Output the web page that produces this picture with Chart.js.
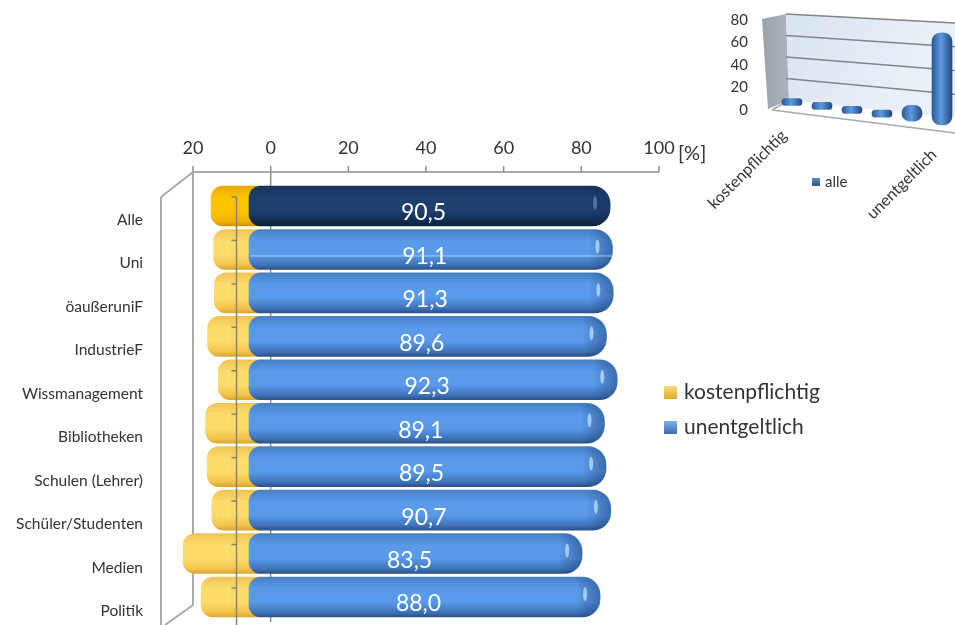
<!DOCTYPE html>
<html lang="de">
<head>
  <meta charset="UTF-8" />
  <title>kostenpflichtig / unentgeltlich</title>
  <style>
    html, body { margin: 0; padding: 0; background: #fff; overflow: hidden; }
    #stage { position: relative; width: 955px; height: 625px; overflow: hidden; }
    canvas { position: absolute; top: 0; display: block; }
    #mainChart { left: 0; }
    #insetChart { left: 680px; }
  </style>
</head>
<body>
  <div id="stage">
    <canvas id="mainChart" width="955" height="625"></canvas>
    <canvas id="insetChart" width="290" height="225"></canvas>
  </div>

  <script src="https://cdn.jsdelivr.net/npm/chart.js"></script>
  <script>
    const FONT = "Lato, 'Open Sans', sans-serif";

    const groups = ['Alle', 'Uni', 'öaußeruniF', 'IndustrieF', 'Wissmanagement', 'Bibliotheken',
      'Schulen (Lehrer)', 'Schüler/Studenten', 'Medien', 'Politik'];
    const unentgeltlich = [90.5, 91.1, 91.3, 89.6, 92.3, 89.1, 89.5, 90.7, 83.5, 88.0];
    const kostenpflichtig = [9.5, 8.9, 8.7, 10.4, 7.7, 10.9, 10.5, 9.3, 16.5, 12.0];

    const insetCategories = ['kostenpflichtig', '', '', '', '', 'unentgeltlich'];
    const insetValues = [3, 2, 2, 2, 14, 82];

    const BAR_HEIGHT = 40;
    const GOLD_OVERLAP = 3; // gold runs on under the rounded left end of the blue bar

    // vertical shading that makes a bar look like a lying cylinder
    function cylinder(stops, darkStops) {
      return ctx => {
        const chart = ctx.chart;
        if (!chart.chartArea || ctx.dataIndex === undefined) return stops[1];
        const y = chart.scales.y.getPixelForValue(ctx.dataIndex);
        const g = chart.ctx.createLinearGradient(0, y - BAR_HEIGHT / 2, 0, y + BAR_HEIGHT / 2);
        const s = ctx.dataIndex === 0 ? darkStops : stops;
        g.addColorStop(0, s[0]);
        g.addColorStop(0.3, s[1]);
        g.addColorStop(0.62, s[1]);
        g.addColorStop(0.88, s[2]);
        g.addColorStop(1, s[3]);
        return g;
      };
    }

    const BLUE = ['#477fc4', '#5a9aea', '#3f74ba', '#2c5288'];
    const NAVY = ['#183459', '#1d3f6f', '#122b50', '#0b1c36'];
    const GOLD = ['#eec555', '#ffdc6c', '#f2c44c', '#d9a632'];
    const GOLD_STRONG = ['#e6a800', '#ffc400', '#f2b400', '#cf9300'];

    function line(ctx, x1, y1, x2, y2) {
      ctx.beginPath();
      ctx.moveTo(x1, y1);
      ctx.lineTo(x2, y2);
      ctx.stroke();
    }

    function swatch(ctx, x, y, size, top, bottom) {
      const g = ctx.createLinearGradient(0, y, 0, y + size);
      g.addColorStop(0, top);
      g.addColorStop(1, bottom);
      ctx.fillStyle = g;
      ctx.fillRect(x, y, size, size);
    }

    // axis line, 3D frame and the 0 gridline sit behind the bars
    const frameBehind = {
      id: 'frameBehind',
      beforeDatasetsDraw(chart) {
        const ctx = chart.ctx;
        const x = chart.scales.x;
        const AXIS_Y = 172;
        const left = x.getPixelForValue(-20);
        ctx.save();
        ctx.strokeStyle = '#a9a9a9';
        ctx.lineWidth = 2;
        line(ctx, left, AXIS_Y, x.getPixelForValue(100), AXIS_Y);
        line(ctx, left, AXIS_Y - 6, left, 605);
        line(ctx, left, AXIS_Y, left - 32, AXIS_Y + 25);
        line(ctx, left - 32, AXIS_Y + 25, left - 32, 625);
        line(ctx, left, 605, left - 28, 625);
        ctx.lineWidth = 1.5;
        ctx.strokeStyle = '#8f8f8f';
        [0, 20, 40, 60, 80, 100].forEach(v => {
          const px = x.getPixelForValue(v);
          line(ctx, px, AXIS_Y - 6, px, AXIS_Y);
        });
        line(ctx, x.getPixelForValue(0), AXIS_Y, x.getPixelForValue(0), 622);
        ctx.restore();
      }
    };

    // end caps, value labels, front axis and the text the axes don't cover
    const barDetails = {
      id: 'barDetails',
      afterDatasetsDraw(chart) {
        const ctx = chart.ctx;
        const blue = chart.getDatasetMeta(1).data;
        ctx.save();
        blue.forEach((bar, i) => {
          const top = bar.y - BAR_HEIGHT / 2;
          const shade = ctx.createLinearGradient(bar.x - 24, 0, bar.x, 0);
          shade.addColorStop(0, 'rgba(20,45,90,0)');
          shade.addColorStop(1, 'rgba(20,45,90,0.42)');
          ctx.fillStyle = shade;
          ctx.beginPath();
          ctx.roundRect(bar.x - 24, top, 24, BAR_HEIGHT, [0, 18, 18, 0]);
          ctx.fill();

          ctx.fillStyle = i === 0 ? 'rgba(120,160,210,0.55)' : 'rgba(190,225,255,0.75)';
          ctx.beginPath();
          ctx.ellipse(bar.x - 15, bar.y - 3, 2, 7, 0, 0, Math.PI * 2);
          ctx.fill();

          ctx.fillStyle = '#fff';
          ctx.font = '23px ' + FONT;
          ctx.textAlign = 'center';
          ctx.textBaseline = 'middle';
          ctx.fillText(unentgeltlich[i].toFixed(1).replace('.', ','), (bar.base + bar.x) / 2 - 6, bar.y + 7);

          if (groups[i] === 'Uni') {
            ctx.strokeStyle = 'rgba(205,225,245,0.75)';
            ctx.lineWidth = 1;
            line(ctx, bar.base + 1, bar.y + 6.5, bar.x, bar.y + 6.5);
          }
        });

        // front axis running over the gold bars
        const FRONT_X = 236.5;
        ctx.strokeStyle = '#8a8468';
        ctx.lineWidth = 1.5;
        const first = blue[0].y - 9;
        line(ctx, FRONT_X, first, FRONT_X, 625);
        blue.forEach(bar => line(ctx, FRONT_X - 5, bar.y - 9, FRONT_X, bar.y - 9));

        ctx.fillStyle = '#333';
        ctx.textAlign = 'left';
        ctx.textBaseline = 'middle';
        ctx.font = '20px ' + FONT;
        ctx.fillText('[%]', 678, 154);

        ctx.font = '21px ' + FONT;
        swatch(ctx, 664, 386, 13, '#f7dd7a', '#e0ad30');
        ctx.fillStyle = '#333';
        ctx.fillText(chart.data.datasets[0].label, 684, 392);
        swatch(ctx, 664, 421, 13, '#7fb2ec', '#3a6cb0');
        ctx.fillStyle = '#333';
        ctx.fillText(chart.data.datasets[1].label, 684, 427);
        ctx.restore();
      }
    };

    new Chart(document.getElementById('mainChart'), {
      type: 'bar',
      data: {
        labels: groups,
        datasets: [
          {
            label: 'kostenpflichtig',
            data: kostenpflichtig.map(v => [-v, GOLD_OVERLAP]),
            xAxisID: 'xBars',
            backgroundColor: cylinder(GOLD, GOLD_STRONG),
            borderRadius: { topLeft: 12, bottomLeft: 12, topRight: 0, bottomRight: 0 },
            borderSkipped: false,
            barThickness: BAR_HEIGHT,
            clip: false,
            order: 2
          },
          {
            label: 'unentgeltlich',
            data: unentgeltlich,
            xAxisID: 'xBars',
            backgroundColor: cylinder(BLUE, NAVY),
            borderRadius: { topLeft: 12, bottomLeft: 12, topRight: 18, bottomRight: 18 },
            borderSkipped: false,
            barThickness: BAR_HEIGHT,
            clip: false,
            order: 1
          }
        ]
      },
      options: {
        indexAxis: 'y',
        responsive: false,
        animation: false,
        devicePixelRatio: 1,
        layout: { padding: { left: 0, right: 296, top: 0, bottom: 6.3 } },
        plugins: { legend: { display: false }, tooltip: { enabled: false } },
        scales: {
          // the printed scale is on the back wall, the bars run on the nearer plane
          x: {
            position: 'top',
            min: -20,
            max: 100,
            grid: { display: false, drawTicks: false },
            border: { display: false },
            ticks: {
              stepSize: 20,
              autoSkip: false,
              maxRotation: 0,
              padding: 25,
              color: '#333',
              font: { family: FONT, size: 18 },
              callback: v => Math.abs(v)
            },
            afterFit: s => { s.height = 184.3; }
          },
          xBars: {
            display: false,
            min: -14.04,
            max: 102.76
          },
          y: {
            stacked: true,
            grid: { display: false, drawTicks: false },
            border: { display: false },
            ticks: {
              padding: 50,
              labelOffset: 14,
              autoSkip: false,
              color: '#333',
              font: { family: FONT, size: 15.5 }
            },
            afterFit: s => { s.width = 193; s.paddingTop = 0; s.paddingBottom = 0; }
          }
        }
      },
      plugins: [frameBehind, barDetails]
    });

    // small column chart, top right
    const FLOOR_SLOPE = 0.13;
    const INSET_BAR = 20;

    function insetShade(ctx) {
      const chart = ctx.chart;
      if (!chart.chartArea || ctx.dataIndex === undefined) return '#3f74ba';
      const x = chart.scales.x.getPixelForValue(ctx.dataIndex);
      const g = chart.ctx.createLinearGradient(x - INSET_BAR / 2, 0, x + INSET_BAR / 2, 0);
      g.addColorStop(0, '#2b5a97');
      g.addColorStop(0.45, '#5e9ade');
      g.addColorStop(1, '#234a80');
      return g;
    }

    const insetWalls = {
      id: 'insetWalls',
      // columns stand on the sloping floor, so each one moves down with its x
      afterDatasetsUpdate(chart) {
        const x0 = chart.scales.x.getPixelForValue(0);
        chart.getDatasetMeta(0).data.forEach(bar => {
          const dy = -4.5 + FLOOR_SLOPE * (bar.x - x0);
          bar.y += dy;
          bar.base += dy;
        });
      },
      beforeDatasetsDraw(chart) {
        const ctx = chart.ctx;
        const y = chart.scales.y;
        // back wall edges: height of a value at the left and right side
        const L = 106, R = 275;
        const leftY = v => 100 - v * 1.075;
        const rightY = v => 118 - v * 1.1875;
        ctx.save();

        const side = ctx.createLinearGradient(82, 0, 106, 0);
        side.addColorStop(0, '#9aa3aa');
        side.addColorStop(1, '#a9b2ba');
        ctx.fillStyle = side;
        ctx.beginPath();
        ctx.moveTo(82, 19);
        ctx.lineTo(L, leftY(80));
        ctx.lineTo(L + 3, leftY(0));
        ctx.lineTo(88, 109);
        ctx.closePath();
        ctx.fill();

        const back = ctx.createLinearGradient(L, 0, R, 100);
        back.addColorStop(0, '#d9e4f1');
        back.addColorStop(1, '#eef3f9');
        ctx.fillStyle = back;
        ctx.beginPath();
        ctx.moveTo(L, leftY(80));
        ctx.lineTo(R, rightY(80));
        ctx.lineTo(R, rightY(0));
        ctx.lineTo(L + 3, leftY(0));
        ctx.closePath();
        ctx.fill();

        ctx.strokeStyle = '#80858a';
        ctx.lineWidth = 1.5;
        y.ticks.forEach(t => {
          if (t.value > 0) line(ctx, L, leftY(t.value), R, rightY(t.value));
        });
        ctx.strokeStyle = '#a9a9a9';
        line(ctx, 92, 110, R, 133);
        line(ctx, L + 3, leftY(0), 92, 110);
        ctx.restore();
      },
      afterDatasetsDraw(chart) {
        const ctx = chart.ctx;
        ctx.save();
        ctx.fillStyle = '#333';
        ctx.font = '16px ' + FONT;
        ctx.textAlign = 'right';
        ctx.textBaseline = 'middle';
        // category labels follow the front edge of the floor
        [[0, 133], [5, 152]].forEach(([i, labelY]) => {
          ctx.save();
          ctx.translate(chart.scales.x.getPixelForValue(i) - 8, labelY);
          ctx.rotate(-Math.PI / 4);
          ctx.fillText(insetCategories[i], 0, 0);
          ctx.restore();
        });
        swatch(ctx, 132, 178, 8, '#5a8fcf', '#2c5288');
        ctx.fillStyle = '#333';
        ctx.textAlign = 'left';
        ctx.font = '15px ' + FONT;
        ctx.fillText(chart.data.datasets[0].label, 145, 182);
        ctx.restore();
      }
    };

    new Chart(document.getElementById('insetChart'), {
      type: 'bar',
      data: {
        labels: insetCategories,
        datasets: [{
          label: 'alle',
          data: insetValues,
          backgroundColor: insetShade,
          barThickness: INSET_BAR,
          minBarLength: 7,
          borderRadius: 9,
          borderSkipped: false,
          clip: false
        }]
      },
      options: {
        responsive: false,
        animation: false,
        devicePixelRatio: 1,
        layout: { padding: { left: 0, right: 13, top: 20, bottom: 115 } },
        plugins: { legend: { display: false }, tooltip: { enabled: false } },
        scales: {
          x: {
            display: true,
            grid: { display: false, drawTicks: false },
            border: { display: false },
            ticks: { display: false }
          },
          y: {
            min: 0,
            max: 80,
            grid: { display: false, drawTicks: false },
            border: { display: false },
            ticks: {
              stepSize: 20,
              padding: 29,
              color: '#333',
              font: { family: FONT, size: 15 }
            },
            afterFit: s => { s.width = 97; s.paddingTop = 0; s.paddingBottom = 0; }
          }
        }
      },
      plugins: [insetWalls]
    });
  </script>
</body>
</html>
